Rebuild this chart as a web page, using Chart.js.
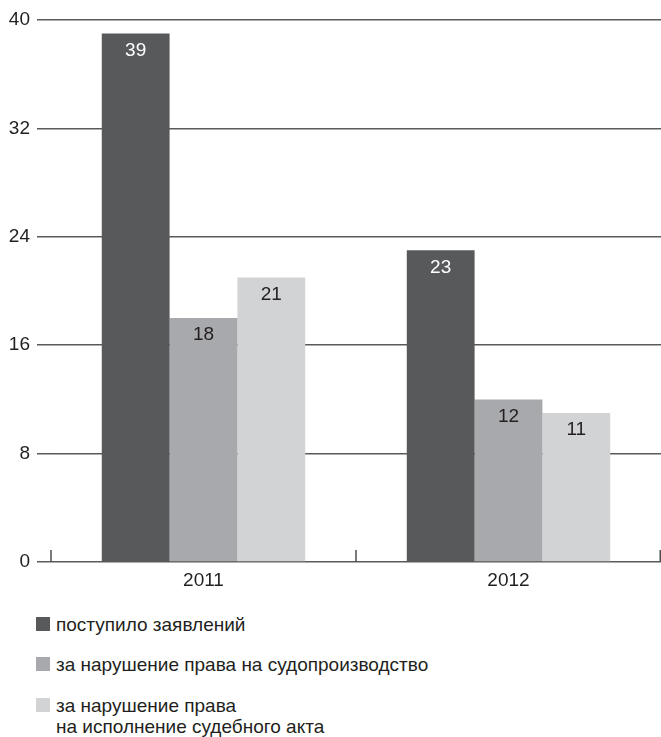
<!DOCTYPE html>
<html>
<head>
<meta charset="utf-8">
<script src="https://cdn.jsdelivr.net/npm/chart.js@4"></script>
<style>
  body { margin: 0; background: #fff; font-family: "Liberation Sans", Arial, sans-serif; }
  #wrap { position: relative; width: 661px; height: 737px; }
  #box { position: absolute; left: 0; top: 0; width: 661px; height: 600px; }
  .leg { position: absolute; left: 36px; font-size: 19px; color: #231f20; line-height: 21px; }
  .leg i { position: absolute; left: 0; top: 3px; width: 14px; height: 14px; }
  .leg span { display: block; margin-left: 20px; }
</style>
</head>
<body>
<div id="wrap">
  <div id="box"><canvas id="plot"></canvas></div>
  <div id="legend"></div>
</div>
<script>
const years = ['2011', '2012'];
const seriesNames = [
    'поступило заявлений',
    'за нарушение права на судопроизводство',
    'за нарушение права\nна исполнение судебного акта'
];
const received = [39, 23];
const courtDelay = [18, 12];
const judgmentDelay = [21, 11];
const yTicks = [0, 8, 16, 24, 32, 40];

const colors = ['#58595b', '#a7a9ac', '#d1d3d4'];
const labelColors = ['#ffffff', '#231f20', '#231f20'];
const fontFamily = '"Liberation Sans", Arial, sans-serif';

// подписи значений внутри столбцов
const barLabels = {
    id: 'barLabels',
    afterDatasetsDraw(chart) {
        const ctx = chart.ctx;
        ctx.save();
        ctx.font = '19px ' + fontFamily;
        ctx.textAlign = 'center';
        ctx.textBaseline = 'middle';
        chart.data.datasets.forEach((ds, i) => {
            chart.getDatasetMeta(i).data.forEach((bar, j) => {
                ctx.fillStyle = labelColors[i];
                ctx.fillText(ds.data[j], bar.x, bar.y + 17);
            });
        });
        ctx.restore();
    }
};

// короткие засечки на оси X между группами
const xTickMarks = {
    id: 'xTickMarks',
    afterDraw(chart) {
        const x = chart.scales.x;
        const bottom = chart.chartArea.bottom;
        const ctx = chart.ctx;
        const half = (x.getPixelForValue(1) - x.getPixelForValue(0)) / 2;
        ctx.save();
        ctx.strokeStyle = '#4d4d4f';
        ctx.lineWidth = 1.5;
        for (let i = 0; i <= years.length; i++) {
            let px = x.getPixelForValue(0) - half + i * 2 * half;
            if (i === years.length) px -= 0.75;
            ctx.beginPath();
            ctx.moveTo(px, bottom);
            ctx.lineTo(px, bottom - 12);
            ctx.stroke();
        }
        ctx.restore();
    }
};

const datasets = [received, courtDelay, judgmentDelay].map((d, i) => ({
    label: seriesNames[i],
    data: d,
    backgroundColor: colors[i],
    borderWidth: 0,
    categoryPercentage: 0.667,
    barPercentage: 1
}));

new Chart(document.getElementById('plot'), {
    type: 'bar',
    data: { labels: years, datasets: datasets },
    options: {
        responsive: true,
        maintainAspectRatio: false,
        animation: false,
        layout: { padding: { top: 20, right: 0, left: 0, bottom: 0 } },
        plugins: { legend: { display: false }, tooltip: { enabled: false } },
        scales: {
            x: {
                grid: { display: false, drawTicks: false },
                border: { display: false },
                ticks: {
                    color: '#231f20',
                    font: { size: 19, family: fontFamily },
                    padding: 7
                },
                afterFit(scale) { scale.height = 38; }
            },
            y: {
                min: 0,
                max: 40,
                afterBuildTicks(scale) { scale.ticks = yTicks.map(v => ({ value: v })); },
                grid: { color: '#5a5a5c', lineWidth: 1.5, tickLength: 14 },
                border: { display: false },
                ticks: {
                    color: '#231f20',
                    font: { size: 19, family: fontFamily },
                    padding: 7
                },
                afterFit(scale) { scale.width = 51; }
            }
        }
    },
    plugins: [barLabels, xTickMarks]
});

// легенда
const legendTops = [614, 654, 695];
const legend = document.getElementById('legend');
seriesNames.forEach((name, i) => {
    const item = document.createElement('div');
    item.className = 'leg';
    item.style.top = legendTops[i] + 'px';
    const sw = document.createElement('i');
    sw.style.background = colors[i];
    item.appendChild(sw);
    name.split('\n').forEach(line => {
        const s = document.createElement('span');
        s.textContent = line;
        item.appendChild(s);
    });
    legend.appendChild(item);
});
</script>
</body>
</html>
